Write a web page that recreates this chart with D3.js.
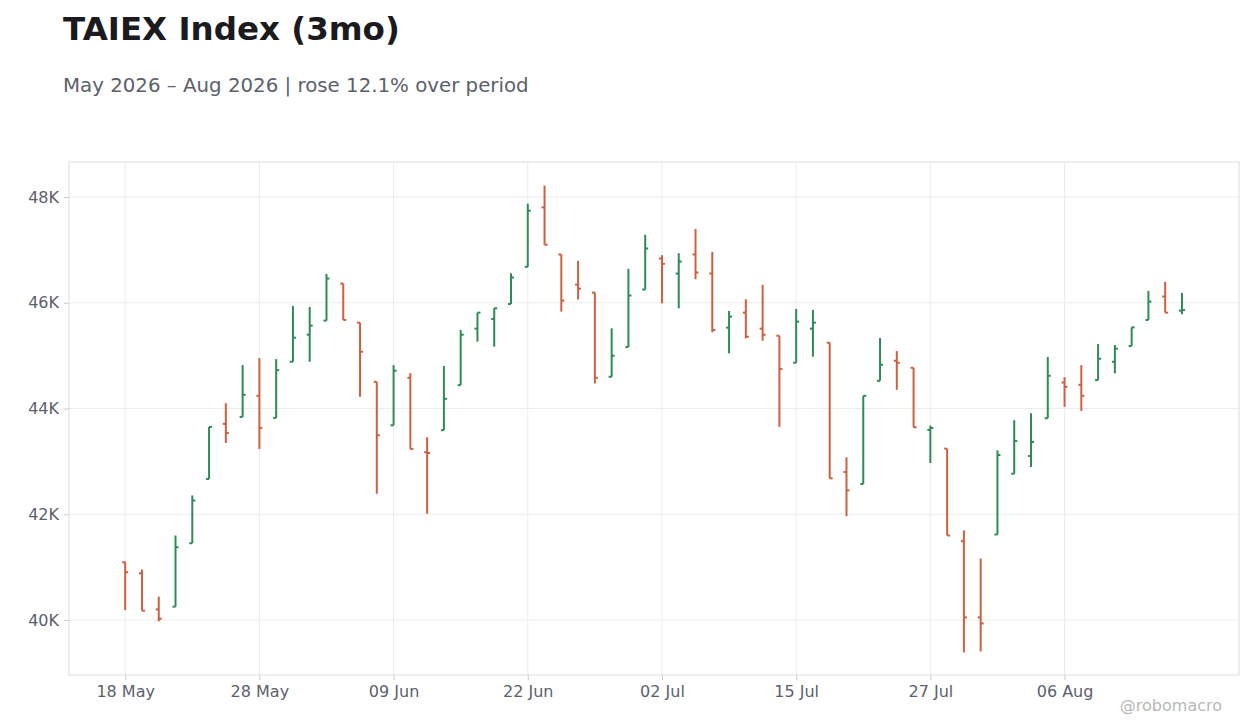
<!DOCTYPE html>
<html><head><meta charset="utf-8">
<script src="https://cdn.jsdelivr.net/npm/d3@7"></script>
<style>body{margin:0;background:#fff;font-family:"DejaVu Sans",sans-serif;}</style>
</head><body><svg id="c" width="1260" height="728"></svg>
<script>
const opens  = [41092,40884,40201,40252,41452,42666,43709,43841,44240,43822,44884,45396,45662,46363,45624,44505,43683,44581,43172,43589,44442,45510,45693,45978,46679,47804,46913,46344,46192,44600,45162,46249,46837,46553,46913,46553,45529,45813,45510,45377,44865,45510,45244,42799,42571,44524,44903,44770,43595,43241,41490,40049,41617,42767,43102,43816,44492,44448,44537,44884,45181,45674,46117,45851];
const highs  = [41100,40953,40441,41598,42356,43652,44101,44821,44954,44935,45940,45921,46546,46363,45624,44505,44821,44669,43456,44802,45485,45813,45896,46559,47874,48215,46913,46793,46192,45516,46641,47286,46900,46938,47393,46963,45845,46066,46338,45377,45883,45864,45244,43077,44240,45333,45087,44770,43677,43241,41693,41162,43209,43778,43911,44973,44593,44821,45219,45201,45535,46224,46395,46186];
const lows   = [40188,40176,39974,40252,41452,42666,43348,43841,43235,43822,44884,44884,45662,45674,44221,42388,43683,43235,42009,43589,44442,45264,45169,45978,46679,47096,45832,46060,44473,44600,45162,46249,45990,45895,46445,45440,45043,45327,45282,43652,44865,44979,42679,41964,42571,44524,44353,43645,42969,41598,39386,39405,41617,42767,42893,43816,44031,43955,44537,44663,45181,45674,45813,45782];
const closes = [40903,40176,40024,41377,42261,43652,43538,44259,43633,44726,45339,45567,46458,45674,45074,43494,44714,43235,43159,44183,45396,45813,45896,46477,47741,47096,46041,46268,44581,44998,46136,47027,46736,46780,46572,45485,45737,45358,45396,44745,45643,45624,42679,42451,44240,44827,44865,43645,43633,41598,40049,39936,43121,43386,43367,44619,44410,44240,44941,45131,45535,46022,45813,45864];
const tickIdx = [0,8,16,24,32,40,48,56];
const tickLabels = ["18 May","28 May","09 Jun","22 Jun","02 Jul","15 Jul","27 Jul","06 Aug"];
const yTicks = [40000,42000,44000,46000,48000];

const svg = d3.select("#c");
const L=69,R=1239,T=162,B=675;
const x = d3.scaleLinear().domain([-3.35,66.4]).range([L,R]);
const y = d3.scaleLinear().domain([38960,48662]).range([B,T]);
const grid="#ececec", txt="#5c5f6b";

svg.append("g").selectAll("line").data(yTicks).join("line")
  .attr("x1",L).attr("x2",R).attr("y1",d=>y(d)).attr("y2",d=>y(d)).attr("stroke",grid);
svg.append("g").selectAll("line").data(tickIdx).join("line")
  .attr("y1",T).attr("y2",B).attr("x1",d=>x(d)).attr("x2",d=>x(d)).attr("stroke",grid);
svg.append("rect").attr("x",L).attr("y",T).attr("width",R-L).attr("height",B-T)
  .attr("fill","none").attr("stroke","#dddddd");

const ya = svg.append("g").attr("transform",`translate(${L},0)`)
  .call(d3.axisLeft(y).tickValues(yTicks).tickSize(5).tickFormat(d=>d/1000+"K"));
const xa = svg.append("g").attr("transform",`translate(0,${B})`)
  .call(d3.axisBottom(x).tickValues(tickIdx).tickSize(5).tickFormat((d,i)=>tickLabels[i]));
[ya,xa].forEach(a=>{a.select(".domain").remove();
  a.selectAll("line").attr("stroke","#cccccc");
  a.selectAll("text").attr("fill",txt).style("font-size","16px").style("font-family","DejaVu Sans");});
ya.selectAll("text").attr("dx","-2");
xa.selectAll("text").attr("dy","0.85em");

const up="#2e8b57", dn="#cc6040";
const bars = svg.append("g").selectAll("g").data(opens.map((o,i)=>({i,o,h:highs[i],l:lows[i],c:closes[i]}))).join("g")
  .attr("stroke",d=>d.c>=d.o?up:dn).attr("stroke-width",2);
bars.append("line").attr("x1",d=>x(d.i)).attr("x2",d=>x(d.i)).attr("y1",d=>y(d.h)).attr("y2",d=>y(d.l));
bars.append("line").attr("x1",d=>x(d.i)-3).attr("x2",d=>x(d.i)).attr("y1",d=>y(d.o)).attr("y2",d=>y(d.o));
bars.append("line").attr("x1",d=>x(d.i)).attr("x2",d=>x(d.i)+3).attr("y1",d=>y(d.c)).attr("y2",d=>y(d.c));

svg.append("text").attr("x",63).attr("y",40).text("TAIEX Index (3mo)")
  .attr("fill","#1a1a1f").style("font-size","32.5px").style("font-weight","bold");
svg.append("text").attr("x",63).attr("y",92).text("May 2026 – Aug 2026 | rose 12.1% over period")
  .attr("fill",txt).style("font-size","19.8px");
svg.append("text").attr("x",1222).attr("y",711).attr("text-anchor","end").text("@robomacro")
  .attr("fill","#b8b8b8").style("font-size","16px");
</script></body></html>
